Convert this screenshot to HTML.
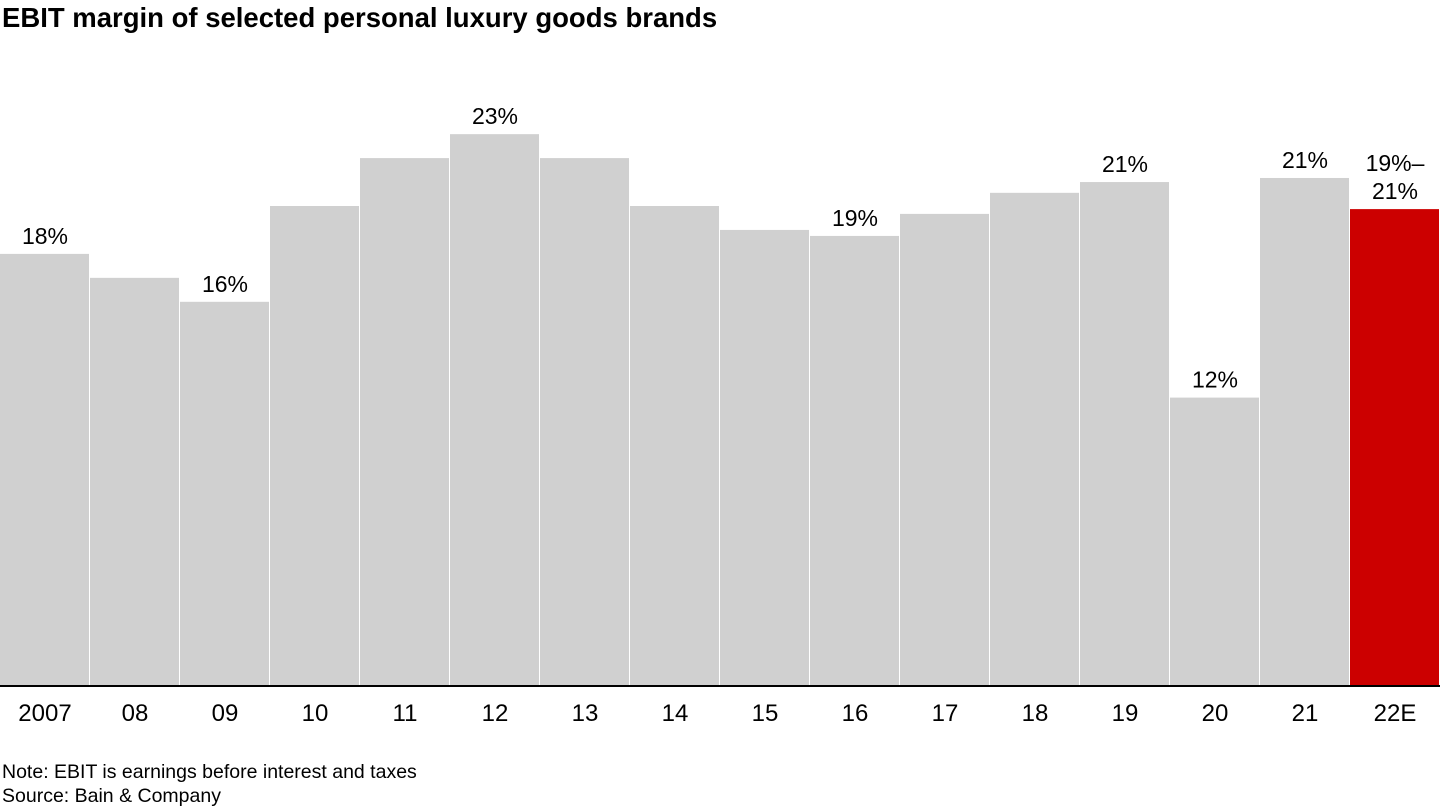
<!DOCTYPE html>
<html><head><meta charset="utf-8"><style>
body{margin:0;width:1440px;height:810px;background:#fff;font-family:"Liberation Sans",Arial,sans-serif;overflow:hidden;position:relative}
.t{position:absolute;left:2px;top:2px;font-size:27.5px;font-weight:bold;color:#000}
.n{position:absolute;left:2px;font-size:19.5px;color:#000}
</style></head><body>
<div class="t">EBIT margin of selected personal luxury goods brands</div>
<svg id="c" width="1440" height="760" style="position:absolute;left:0;top:0"></svg>
<div class="n" style="top:761px">Note: EBIT is earnings before interest and taxes</div>
<div class="n" style="top:785px">Source: Bain &amp; Company</div>
<script>
const categories=["2007","08","09","10","11","12","13","14","15","16","17","18","19","20","21","22E"];
const values=[18,17,16,20,22,23,22,20,19,18.75,19.67,20.55,21,12,21.17,19.87];
const valueLabels=["18%","","16%","","","23%","","","","19%","","","21%","12%","21%","19%–|21%"];
const svg=document.getElementById('c');
const NS='http://www.w3.org/2000/svg';
const base=685,scale=23.95,bw=90;
const y=v=>base-v*scale;
const x=i=>i*bw;
categories.forEach((c,i)=>{
  const r=document.createElementNS(NS,'rect');
  r.setAttribute('x',x(i));r.setAttribute('y',y(values[i]));
  r.setAttribute('width',bw-1);r.setAttribute('height',base-y(values[i]));
  r.setAttribute('fill',c==='22E'?'#cc0000':'#d0d0d0');
  
  
  svg.appendChild(r);
  const t=document.createElementNS(NS,'text');
  t.setAttribute('x',x(i)+bw/2);t.setAttribute('y',721);
  t.setAttribute('text-anchor','middle');t.setAttribute('font-size','24');
  t.textContent=c;
  
  
  svg.appendChild(t);
  if(valueLabels[i]){
    const lines=valueLabels[i].split('|');
    lines.forEach((l,k)=>{
      const v=document.createElementNS(NS,'text');
      v.setAttribute('x',x(i)+bw/2);
      v.setAttribute('y',y(values[i])-10-(lines.length-1-k)*28);
      v.setAttribute('text-anchor','middle');v.setAttribute('font-size','23');
      v.textContent=l;
      
      
      svg.appendChild(v);
    });
  }
});
const ax=document.createElementNS(NS,'line');
ax.setAttribute('x1',0);ax.setAttribute('x2',1440);ax.setAttribute('y1',base+1);ax.setAttribute('y2',base+1);
ax.setAttribute('stroke','#000');ax.setAttribute('stroke-width','2');


svg.appendChild(ax);
</script>
</body></html>
